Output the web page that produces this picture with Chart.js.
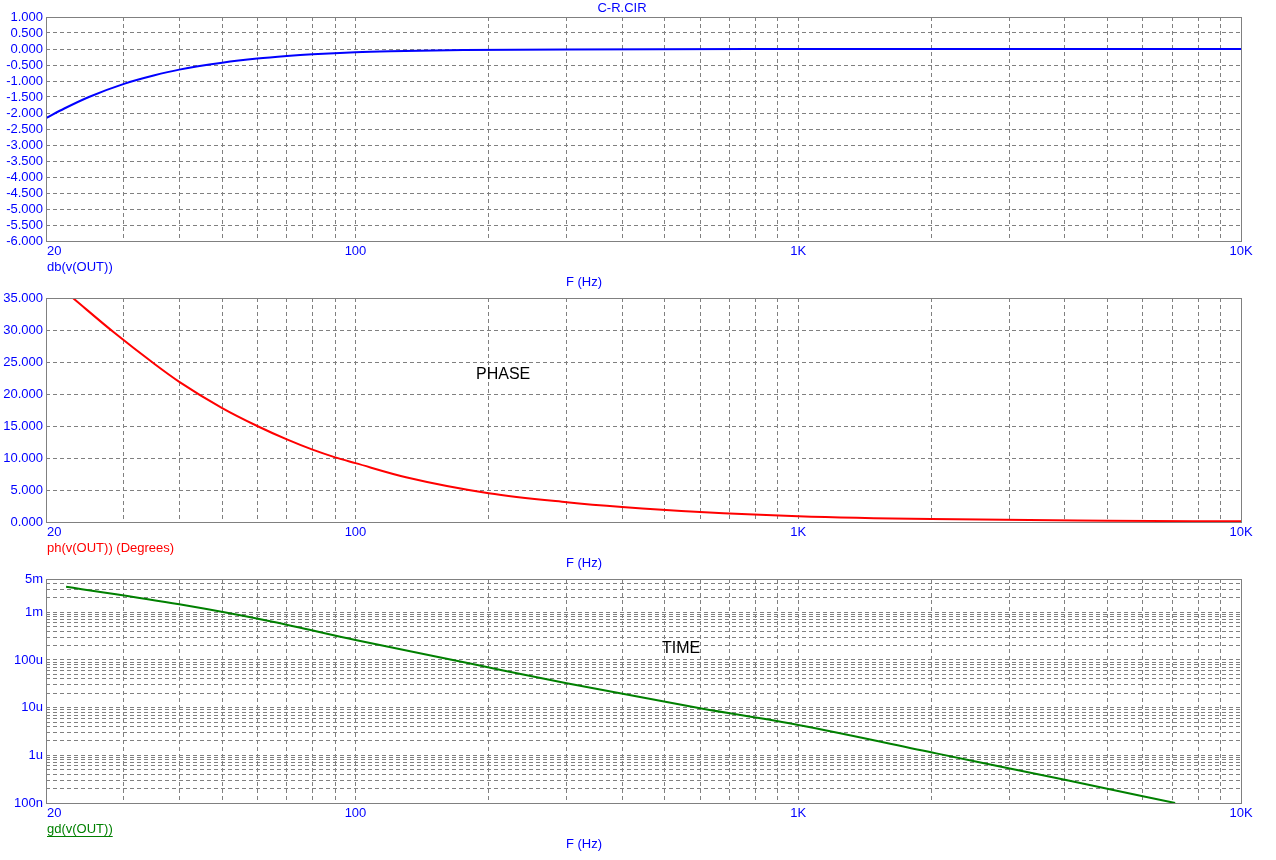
<!DOCTYPE html>
<html>
<head>
<meta charset="utf-8">
<title>C-R.CIR</title>
<script src="https://cdn.jsdelivr.net/npm/chart.js@4.4.1/dist/chart.umd.min.js"></script>
<style>
    body { margin: 0; background: #ffffff; }
    canvas { position: absolute; left: 0; }
</style>
</head>
<body>
<canvas id="dbChart" width="1276" height="298" style="top:0px"></canvas>
<canvas id="phChart" width="1276" height="298" style="top:281px"></canvas>
<canvas id="gdChart" width="1276" height="298" style="top:562px"></canvas>
<script>
// Frequency axis (Hz)
var freqMin = 20;
var freqMax = 10000;
var freqLabelValues = [20, 100, 1000, 10000];
var freqLabels = ['20', '100', '1K', '10K'];

// db(v(OUT))
var dbFreq = [20, 22, 25, 30, 35, 40, 50, 60, 70, 80, 100, 120, 175, 300, 1000, 10000];
var dbValues = [-2.16, -1.86, -1.50, -1.09, -0.83, -0.645, -0.43, -0.30, -0.22, -0.165, -0.10, -0.07, -0.035, -0.012, 0, 0];

// ph(v(OUT)) (Degrees)
var phFreq = [23, 28.5, 35, 40, 50, 60, 70, 80, 90, 100, 130, 200, 300, 400, 600, 1000, 2000, 5000, 10000];
var phValues = [35, 29.6, 24.8, 21.9, 17.8, 15, 12.9, 11.3, 10.1, 9.2, 7.0, 4.5, 3.1, 2.35, 1.55, 0.9, 0.45, 0.2, 0.1];

// gd(v(OUT))
var gdFreq = [22.2, 40, 65, 100, 185, 300, 600, 1000, 2050, 4050, 7100];
var gdValues = [3.45e-3, 1.47e-3, 6.35e-4, 2.62e-4, 8.1e-5, 3.24e-5, 9.7e-6, 4.33e-6, 1.10e-6, 3.0e-7, 1.0e-7];
var gdTickValues = [1e-7, 1e-6, 1e-5, 1e-4, 1e-3, 5e-3];
var gdTickLabels = ['100n', '1u', '10u', '100u', '1m', '5m'];

(function() {
    'use strict';

    var FONT = '"Liberation Sans", Arial, sans-serif';
    var BLUE = '#0000ff';
    var GRID = '#808080';

    // Decade grid: 1..9 in every decade between lo and hi
    function decadeGrid(lo, hi) {
        var out = [];
        for (var d = lo; d < hi * 0.999; d *= 10) {
            for (var m = 1; m < 10; m++) {
                out.push(d * m);
            }
        }
        out.push(hi);
        return out;
    }

    var freqGrid = decadeGrid(10, 10000).filter(function(v) { return v >= freqMin; });
    var gdGrid = decadeGrid(1e-7, 1e-3).concat([2e-3, 3e-3, 4e-3, 5e-3]);

    function points(xs, ys) {
        return xs.map(function(x, i) { return { x: x, y: ys[i] }; });
    }

    // Frame, frequency labels and axis names
    var panelPlugin = {
        id: 'panel',
        afterDraw: function(chart, args, opts) {
            var ctx = chart.ctx;
            var area = chart.chartArea;
            var xScale = chart.scales.x;

            ctx.save();
            ctx.strokeStyle = GRID;
            ctx.lineWidth = 1;
            ctx.setLineDash([]);
            ctx.strokeRect(area.left + 0.5, area.top + 0.5, area.right - area.left, area.bottom - area.top);

            ctx.font = '13px ' + FONT;
            ctx.textBaseline = 'middle';
            ctx.fillStyle = BLUE;

            freqLabelValues.forEach(function(v, i) {
                var px = xScale.getPixelForValue(v);
                ctx.textAlign = i === 0 ? 'left' : 'center';
                ctx.fillText(freqLabels[i], i === 0 ? px + 1 : px, area.bottom + 10);
            });

            ctx.textAlign = 'center';
            ctx.fillText('F (Hz)', 584, area.bottom + 41);

            if (opts.title) {
                ctx.fillText(opts.title, 622, 8);
            }

            ctx.textAlign = 'left';
            ctx.fillStyle = opts.nameColor;
            ctx.fillText(opts.name, area.left + 1, area.bottom + 26);
            if (opts.underline) {
                var w = ctx.measureText(opts.name).width;
                ctx.strokeStyle = opts.nameColor;
                ctx.beginPath();
                ctx.moveTo(area.left + 1, area.bottom + 33.5);
                ctx.lineTo(area.left + 1 + w, area.bottom + 33.5);
                ctx.stroke();
            }

            if (opts.note) {
                ctx.fillStyle = '#000000';
                ctx.font = '16px ' + FONT;
                ctx.fillText(opts.note.text, opts.note.x, area.top + opts.note.y);
            }
            ctx.restore();
        }
    };

    function makeChart(id, data, color, yScale, panel) {
        return new Chart(document.getElementById(id), {
            type: 'line',
            data: {
                datasets: [{
                    data: data,
                    borderColor: color,
                    borderWidth: 2,
                    pointRadius: 0,
                    cubicInterpolationMode: 'monotone',
                    fill: false
                }]
            },
            options: {
                responsive: false,
                animation: false,
                devicePixelRatio: 1,
                layout: { padding: { top: 17, right: 35, bottom: 57, left: 0 } },
                plugins: {
                    legend: { display: false },
                    tooltip: { enabled: false },
                    panel: panel
                },
                scales: {
                    x: {
                        type: 'logarithmic',
                        min: freqMin,
                        max: freqMax,
                        ticks: { display: false },
                        grid: { color: GRID, drawTicks: false },
                        border: { display: false, dash: [4, 3] },
                        afterBuildTicks: function(scale) {
                            scale.ticks = freqGrid.map(function(v) { return { value: v }; });
                        },
                        afterFit: function(scale) { scale.height = 0; }
                    },
                    y: yScale
                }
            },
            plugins: [panelPlugin]
        });
    }

    function yAxis(extra) {
        var base = {
            ticks: {
                color: BLUE,
                font: { family: FONT, size: 13 },
                padding: 3,
                autoSkip: false
            },
            grid: { color: GRID, drawTicks: false },
            border: { display: false, dash: [4, 3] },
            afterFit: function(scale) { scale.width = 46; }
        };
        Object.keys(extra).forEach(function(k) {
            if (k === 'ticks') {
                Object.assign(base.ticks, extra.ticks);
            } else {
                base[k] = extra[k];
            }
        });
        return base;
    }

    // Magnitude
    makeChart('dbChart', points(dbFreq, dbValues), BLUE, yAxis({
        min: -6, max: 1,
        ticks: { stepSize: 0.5, callback: function(v) { return v.toFixed(3); } }
    }), { name: 'db(v(OUT))', nameColor: BLUE, title: 'C-R.CIR' });

    // Phase
    makeChart('phChart', points(phFreq, phValues), '#ff0000', yAxis({
        min: 0, max: 35,
        ticks: { stepSize: 5, callback: function(v) { return v.toFixed(3); } }
    }), { name: 'ph(v(OUT)) (Degrees)', nameColor: '#ff0000', note: { text: 'PHASE', x: 476, y: 77 } });

    // Group delay
    makeChart('gdChart', points(gdFreq, gdValues), '#008000', yAxis({
        type: 'logarithmic',
        min: 1e-7, max: 5e-3,
        ticks: {
            callback: function(v) {
                for (var i = 0; i < gdTickValues.length; i++) {
                    if (Math.abs(v / gdTickValues[i] - 1) < 1e-6) {
                        return gdTickLabels[i];
                    }
                }
                return '';
            }
        },
        afterBuildTicks: function(scale) {
            scale.ticks = gdGrid.map(function(v) { return { value: v }; });
        }
    }), { name: 'gd(v(OUT))', nameColor: '#008000', underline: true, note: { text: 'TIME', x: 662, y: 70 } });
})();
</script>
</body>
</html>
